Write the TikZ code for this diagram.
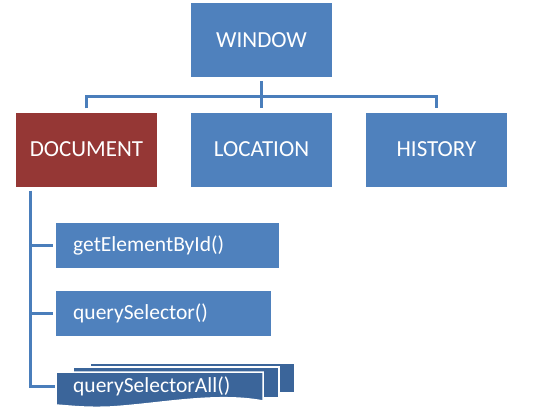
\documentclass[tikz,border=0pt]{standalone}
\usepackage{fontspec}
\setmainfont{Carlito}
\definecolor{blauw}{HTML}{4F81BD}
\definecolor{rood}{HTML}{953735}
\definecolor{donker}{HTML}{3B659A}
\definecolor{lijnkleur}{HTML}{4A7EBB}
\tikzset{
  vak/.style={fill=blauw, text=white, minimum width=141pt, minimum height=74pt, inner sep=0pt, font=\fontsize{23}{23}\selectfont},
  functie/.style={fill=blauw, text=white, minimum height=45pt, inner ysep=0pt, inner xsep=17pt, anchor=west, align=left, font=\fontsize{21.5}{21.5}\selectfont},
  lijn/.style={lijnkleur, line width=3pt},
  blad/.style={fill=donker, draw=white, line width=1.5pt}
}
\begin{document}
\begin{tikzpicture}[x=1pt, y=-1pt]
\useasboundingbox (0,0) rectangle (560,420);

% Bovenste rij
\node[vak] (window) at (261.5,40) {WINDOW};
\node[vak, fill=rood] (document) at (86.5,149.5) {DOCUMENT};
\node[vak] (location) at (261.5,149.5) {LOCATION};
\node[vak] (history) at (436.5,149.5) {HISTORY};

% Boomlijnen
\draw[lijn] ([yshift=-4pt]window.south) -- ++(0,15.5) coordinate (knoop);
\draw[lijn] ([yshift=4pt]document.north) -- (document.north |- knoop) -- (history.north |- knoop) -- ([yshift=4pt]history.north);
\draw[lijn] (knoop) -- ([yshift=4pt]location.north);

% Methoden
\node[functie, text width=189pt] (byid) at (56,245.5) {getElementById()};
\node[functie, text width=181pt] (selector) at (56,313.5) {querySelector()};

% Gestapelde bladen
\filldraw[blad] (90,363) rectangle (295,393);
\filldraw[blad] (73,367) rectangle (279,398);
\filldraw[blad] (56,372) -- (263,372) -- (263,401) .. controls (215,392) and (160,404) .. (110,407) .. controls (85,408) and (70,406) .. (56,405) -- cycle;
\node[functie, fill=none, text width=173pt, minimum height=30pt] (alles) at (56,386) {querySelectorAll()};

% Zijlijnen
\coordinate (start) at ([xshift=15pt, yshift=-4pt]document.south west);
\draw[lijn] (start) -- (start |- alles.west) -- ([xshift=-1pt]alles.west);
\draw[lijn] (start |- byid.west) -- ([xshift=-3pt]byid.west);
\draw[lijn] (start |- selector.west) -- ([xshift=-3pt]selector.west);
\end{tikzpicture}
\end{document}
